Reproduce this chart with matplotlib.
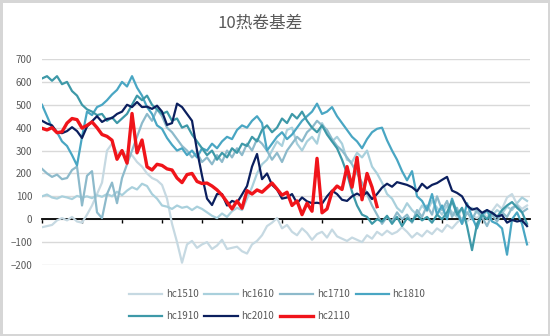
import numpy as np
import matplotlib
matplotlib.use("Agg")
import matplotlib.pyplot as plt

plt.rcParams['font.family'] = ['Noto Sans CJK SC', 'DejaVu Sans']

# 基差序列（按交易日顺序）
hc1510 = [
    -35, -30, -25, -5, 5, -5, 10, -10, -15, 20,
    60, 110, 160, 300, 330, 290, 300, 270, 280, 250,
    230, 200, 180, 170, 150, 90, -20, -100, -190, -110,
    -95, -125, -110, -100, -130, -115, -90, -130, -125, -120,
    -140, -150, -110, -95, -70, -30, -15, 5, -40, -25,
    -55, -70, -40, -60, -90, -65, -55, -80, -45, -75,
    -85, -95, -80, -90, -100, -70, -85, -55, -70, -50,
    -65, -55, -35, -55, -80, -60, -75, -50, -65, -40,
    -55, -25, -40, -15, 5, -10, 15, 5, 25, 10,
    35, 65, 45, 95, 110, 65, 45, 60]
hc1610 = [
    100, 108, 95, 90, 100, 95, 88, 102, 95, 100,
    92, 105, 98, 110, 100, 120, 105, 125, 140, 130,
    155, 145, 110, 90, 60, 55, 45, 60, 50, 55,
    40, 55, 45, 30, 15, 5, 25, 10, 35, 50,
    40, 90, 140, 200, 240, 260, 300, 340, 320, 390,
    400, 330, 300, 340, 360, 330, 420, 380, 340, 360,
    330, 260, 250, 290, 270, 300, 230, 200, 160, 110,
    90, 50, 30, 70, 40, 20, 60, 35, 80, 50,
    20, 60, 30, 10, 45, 25, 50, 30, 10, 35,
    15, 40, 25, 55, 40, 70, 95, 80]
hc1710 = [
    220, 200, 185, 195, 175, 180, 215, 230, 60, 190,
    210, 30, 5, 110, 160, 70, 180, 240, 300, 360,
    420, 460, 430, 480, 450, 400, 380, 350, 320, 300,
    270, 290, 250, 270, 240, 280, 250, 300, 270, 310,
    280, 330, 300, 350, 330, 300, 260, 290, 250, 300,
    330, 360, 340, 380, 400, 430, 410, 390, 350, 320,
    300, 270, 240, 200, 160, 110, 60, 20, -20, 10,
    -10, 30, 0, 20, -15, 40, 10, 60, 20, 100,
    40, 80, 10, 50, -20, 30, 0, 40, 10, -30,
    20, -10, 30, 10, 50, 60, 30, 45]
hc1810 = [
    500, 450, 400, 380, 340, 320, 280, 235, 360, 470,
    455, 490, 500, 520, 545, 565, 600, 580, 625, 575,
    540, 490, 460, 410, 395, 355, 325, 300, 310, 280,
    300, 270, 310, 300, 330, 310, 340, 360, 350, 390,
    410, 400, 430, 450, 420, 300, 330, 360, 380, 350,
    370, 400, 430, 450, 470, 505, 460, 470, 490, 450,
    420, 390, 360, 340, 310, 350, 380, 395, 400, 345,
    300, 260, 210, 170, 210, 100, 80, 40, 110, 20,
    60, 0, 90, 30, -20, 70, 10, -40, 20, 40,
    -10, -20, -40, -155, 0, 30, -20, -110]
hc1910 = [
    615, 625, 605, 625, 590, 600, 560, 540, 500, 480,
    470, 455, 460, 430, 445, 420, 440, 460, 500, 540,
    520, 540, 500, 480, 460, 470, 430, 440, 400, 410,
    370, 340, 310, 280, 300, 260, 290, 270, 310, 290,
    330, 320, 360, 340, 390, 410, 380, 400, 440, 420,
    460, 440, 470, 430, 400, 380, 410, 370, 340, 310,
    260, 200, 120, 60, 20, 10, -20, 0, -10, 15,
    -20, 10, -30, 5, -10, 20, -5, 10, -15, 20,
    0, 30, 80, 20, 50, -30, -135, -20, 20, 0,
    30, 10, 40, 60, 75, 50, 30, -20]
hc2010 = [
    430, 418, 410, 380, 376, 385, 402, 385, 355, 405,
    428, 450, 425, 438, 442, 460, 470, 500, 490, 512,
    490, 492, 482, 496, 470, 412, 420, 505, 490, 460,
    430, 300, 190, 90, 62, 110, 110, 60, 80, 72,
    108, 145, 230, 285, 175, 200, 150, 130, 90, 95,
    110, 70, 95, 78, 70, 72, 68, 100, 125, 110,
    85, 80, 100, 112, 100, 118, 88, 110, 138, 155,
    142, 162, 156, 150, 140, 122, 155, 135, 150, 158,
    172, 185, 125, 115, 100, 60, 42, 48, 28, 40,
    28, 12, 18, -15, -3, -10, -5, -30]
hc2110 = [
    397, 390, 400, 378, 382, 420, 440, 435, 398, 410,
    425, 400, 370, 362, 345, 262, 300, 245, 462, 290,
    346, 229, 215, 240, 235, 220, 215, 180, 160, 195,
    200, 165, 156, 158, 145, 128, 105, 75, 45, 80,
    48, 125, 110, 128, 118, 138, 158, 132, 105, 118,
    60, 80, 20, 70, 35, 266, 28, 45, 120, 145,
    130, 230, 140, 270, 85, 200, 140, 55]

labels = ['hc1510', 'hc1610', 'hc1710', 'hc1810', 'hc1910', 'hc2010', 'hc2110']
series = [hc1510, hc1610, hc1710, hc1810, hc1910, hc2010, hc2110]
colors = ['#c6d9e2', '#a9d0dc', '#8dbacb', '#49a6c3', '#3e99a8', '#0b1f5e', '#f0141a']
widths = [1.6, 1.6, 1.6, 1.6, 1.6, 1.6, 2.4]

fig = plt.figure(figsize=(5.5, 3.36), dpi=100)
fig.patch.set_edgecolor('#d6d6d6')
fig.patch.set_linewidth(2.5)
ax = fig.add_axes([0.0764, 0.2113, 0.8873, 0.6131])

handles = []
for name, vals, c, lw in zip(labels, series, colors, widths):
    h, = ax.plot(np.arange(len(vals)), vals, color=c, lw=lw, label=name, zorder=3)
    handles.append(h)

ax.set_xlim(0, 97.6)
ax.set_ylim(-200, 700)
ax.set_yticks(np.arange(-200, 701, 100))
ax.set_xticks(np.arange(0, 98, 8))
ax.yaxis.grid(True, color='#d9d9d9', lw=1)
ax.set_axisbelow(True)

for side in ['top', 'right', 'left']:
    ax.spines[side].set_visible(False)
ax.spines['bottom'].set_position(('data', 0))
ax.spines['bottom'].set_color('black')
ax.spines['bottom'].set_linewidth(1.3)
ax.spines['bottom'].set_zorder(2.5)

ax.tick_params(axis='y', length=0, pad=7, labelsize=7, labelcolor='#595959')
ax.tick_params(axis='x', direction='out', length=3, width=1, color='black',
               labelbottom=False)

fig.text(260 / 550, 1 - 23 / 336, '10热卷基差', ha='center', va='center',
         fontsize=12, color='#595959')

# 图例按行排列：两行，每行四项
order = [0, 4, 1, 5, 2, 6, 3]
ax.legend([handles[i] for i in order], [labels[i] for i in order],
          ncol=4, loc='center', bbox_to_anchor=(0.504, 0.092),
          bbox_transform=fig.transFigure, frameon=False, fontsize=7,
          labelcolor='#595959', handlelength=3.4, handletextpad=0.4,
          columnspacing=0.6, labelspacing=1.2)

fig.savefig('out.png', dpi=100)
